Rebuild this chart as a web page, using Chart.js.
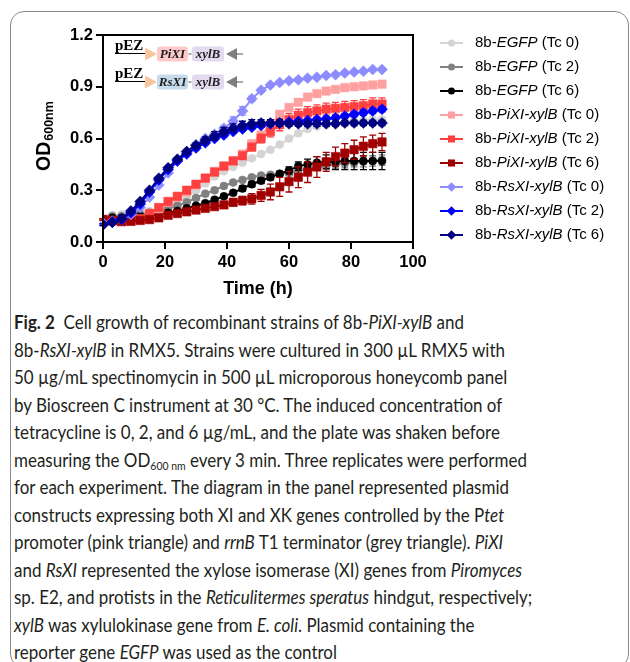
<!DOCTYPE html>
<html>
<head>
<meta charset="utf-8">
<script src="https://cdn.jsdelivr.net/npm/chart.js@4.4.1/dist/chart.umd.min.js"></script>
<style>
  html, body { margin: 0; padding: 0; background: #fff; width: 630px; height: 662px; overflow: hidden; }
  #frame { position: absolute; left: 10px; top: 11px; width: 619px; height: 657px; box-sizing: border-box;
           border: 1px solid #8a8a8a; border-radius: 14px; }
  #chartBox { position: absolute; left: 0; top: 0; width: 630px; height: 305px; }
  #caption { position: absolute; left: 14px; top: 308px; font-family: Lato, "Noto Sans", sans-serif;
             font-size: 19.5px; color: #231f20; transform: scaleX(0.87); transform-origin: 0 0; }
  #caption .ln { height: 27.5px; line-height: 27.5px; white-space: nowrap; }
  #caption sub { font-size: 12px; vertical-align: -3px; line-height: 0; }
</style>
</head>
<body>
<div id="frame"></div>
<div id="chartBox"><canvas id="c" width="630" height="305"></canvas></div>
<div id="caption">
  <div class="ln"><b>Fig. 2</b>&nbsp; Cell growth of recombinant strains of 8b-<i>PiXI-xylB</i> and</div>
  <div class="ln">8b-<i>RsXI-xylB</i> in RMX5. Strains were cultured in 300 µL RMX5 with</div>
  <div class="ln">50 µg/mL spectinomycin in 500 µL microporous honeycomb panel</div>
  <div class="ln">by Bioscreen C instrument at 30 °C. The induced concentration of</div>
  <div class="ln">tetracycline is 0, 2, and 6 µg/mL, and the plate was shaken before</div>
  <div class="ln">measuring the OD<sub>600 nm</sub> every 3 min. Three replicates were performed</div>
  <div class="ln">for each experiment. The diagram in the panel represented plasmid</div>
  <div class="ln">constructs expressing both XI and XK genes controlled by the P<i>tet</i></div>
  <div class="ln">promoter (pink triangle) and <i>rrnB</i> T1 terminator (grey triangle). <i>PiXI</i></div>
  <div class="ln">and <i>RsXI</i> represented the xylose isomerase (XI) genes from <i>Piromyces</i></div>
  <div class="ln">sp. E2, and protists in the <i>Reticulitermes speratus</i> hindgut, respectively;</div>
  <div class="ln"><i>xylB</i> was xylulokinase gene from <i>E. coli</i>. Plasmid containing the</div>
  <div class="ln">reporter gene <i>EGFP</i> was used as the control</div>
</div>
<script>
// sampling times (h)
const times = [0,3,6,9,12,15,18,21,24,27,30,33,36,39,42,45,48,51,54,57,60,63,66,69,72,75,78,81,84,87,90];

// OD600 means
const egfpTc0 = [0.13,0.155,0.16,0.165,0.17,0.18,0.19,0.205,0.23,0.26,0.30,0.34,0.38,0.41,0.435,0.46,0.485,0.51,0.535,0.565,0.60,0.63,0.655,0.67,0.68,0.69,0.695,0.70,0.705,0.71,0.71];
const egfpTc2 = [0.13,0.15,0.15,0.155,0.16,0.17,0.18,0.195,0.21,0.23,0.255,0.28,0.30,0.325,0.345,0.36,0.375,0.385,0.39,0.395,0.40,0.415,0.425,0.435,0.44,0.45,0.455,0.46,0.465,0.47,0.475];
const egfpTc6 = [0.13,0.14,0.14,0.145,0.15,0.155,0.16,0.17,0.18,0.195,0.21,0.225,0.245,0.265,0.285,0.31,0.335,0.355,0.375,0.395,0.415,0.44,0.45,0.46,0.465,0.465,0.47,0.47,0.47,0.47,0.47];
const pixiTc0 = [0.13,0.12,0.115,0.12,0.13,0.16,0.19,0.23,0.26,0.29,0.33,0.37,0.41,0.44,0.47,0.51,0.57,0.62,0.68,0.74,0.78,0.81,0.84,0.86,0.875,0.885,0.895,0.90,0.905,0.91,0.915];
const pixiTc2 = [0.13,0.125,0.12,0.125,0.135,0.165,0.20,0.235,0.265,0.30,0.335,0.37,0.405,0.44,0.47,0.50,0.55,0.60,0.64,0.68,0.71,0.735,0.75,0.76,0.77,0.775,0.78,0.785,0.79,0.80,0.80];
const pixiTc6 = [0.13,0.125,0.12,0.12,0.125,0.13,0.14,0.155,0.165,0.175,0.185,0.195,0.205,0.215,0.23,0.24,0.25,0.27,0.29,0.32,0.35,0.375,0.405,0.435,0.465,0.495,0.515,0.535,0.555,0.57,0.58];
const rsxiTc0 = [0.11,0.12,0.13,0.16,0.20,0.26,0.33,0.40,0.47,0.52,0.565,0.60,0.625,0.66,0.70,0.76,0.83,0.88,0.91,0.925,0.935,0.94,0.95,0.955,0.965,0.97,0.98,0.985,0.99,1.0,1.0];
const rsxiTc2 = [0.10,0.115,0.13,0.17,0.22,0.29,0.36,0.42,0.47,0.51,0.545,0.575,0.60,0.62,0.64,0.655,0.665,0.675,0.685,0.69,0.695,0.70,0.705,0.71,0.715,0.72,0.73,0.74,0.75,0.76,0.77];
const rsxiTc6 = [0.10,0.115,0.135,0.18,0.235,0.30,0.37,0.43,0.48,0.525,0.56,0.59,0.615,0.64,0.66,0.675,0.685,0.69,0.69,0.69,0.685,0.685,0.685,0.685,0.685,0.685,0.69,0.69,0.69,0.69,0.69];

// error bar half-heights (SD), estimated
const errEgfpTc0 = [0.005,0.005,0.005,0.005,0.005,0.005,0.005,0.005,0.005,0.005,0.005,0.005,0.005,0.005,0.005,0.005,0.005,0.005,0.005,0.005,0.01,0.01,0.01,0.01,0.01,0.01,0.01,0.01,0.01,0.01,0.01];
const errEgfpTc2 = [0.005,0.005,0.005,0.005,0.005,0.005,0.005,0.005,0.005,0.005,0.01,0.01,0.01,0.01,0.01,0.01,0.01,0.01,0.01,0.01,0.015,0.015,0.02,0.02,0.02,0.025,0.025,0.025,0.03,0.03,0.03];
const errEgfpTc6 = [0.005,0.005,0.005,0.005,0.005,0.005,0.005,0.005,0.005,0.005,0.01,0.01,0.01,0.01,0.01,0.015,0.015,0.015,0.015,0.015,0.02,0.025,0.03,0.035,0.04,0.045,0.05,0.05,0.05,0.05,0.05];
const errPixiTc0 = [0.005,0.005,0.005,0.005,0.005,0.005,0.005,0.005,0.005,0.005,0.005,0.005,0.005,0.005,0.01,0.01,0.015,0.02,0.025,0.02,0.015,0.01,0.01,0.01,0.01,0.01,0.01,0.01,0.01,0.01,0.01];
const errPixiTc2 = [0.005,0.005,0.005,0.005,0.005,0.005,0.005,0.005,0.005,0.005,0.01,0.01,0.01,0.01,0.015,0.015,0.02,0.025,0.03,0.035,0.035,0.035,0.035,0.035,0.035,0.035,0.035,0.035,0.035,0.035,0.035];
const errPixiTc6 = [0.005,0.005,0.005,0.005,0.005,0.005,0.005,0.005,0.01,0.01,0.01,0.01,0.015,0.02,0.02,0.025,0.03,0.035,0.045,0.055,0.06,0.06,0.06,0.06,0.055,0.055,0.055,0.055,0.055,0.05,0.05];
const errRsxiTc0 = [0.005,0.005,0.005,0.005,0.005,0.005,0.005,0.005,0.005,0.005,0.005,0.005,0.01,0.015,0.025,0.025,0.015,0.01,0.01,0.01,0.01,0.01,0.01,0.01,0.01,0.01,0.01,0.01,0.01,0.01,0.01];
const errRsxiTc2 = [0.005,0.005,0.005,0.005,0.005,0.005,0.005,0.005,0.005,0.005,0.01,0.01,0.01,0.01,0.01,0.01,0.01,0.01,0.01,0.01,0.01,0.01,0.01,0.01,0.01,0.01,0.01,0.015,0.015,0.015,0.015];
const errRsxiTc6 = [0.005,0.005,0.005,0.005,0.005,0.005,0.005,0.005,0.01,0.01,0.015,0.02,0.025,0.025,0.025,0.025,0.025,0.02,0.02,0.02,0.015,0.015,0.015,0.015,0.015,0.015,0.015,0.015,0.015,0.015,0.015];

const xTicks = [0, 20, 40, 60, 80, 100];
const yTicks = [0, 0.3, 0.6, 0.9, 1.2];

const series = [
  { gene: 'EGFP',      tc: 'Tc 0', y: egfpTc0, err: errEgfpTc0, color: '#d4d4d4', style: 'circle',  r: 4 },
  { gene: 'EGFP',      tc: 'Tc 2', y: egfpTc2, err: errEgfpTc2, color: '#808080', style: 'circle',  r: 4 },
  { gene: 'EGFP',      tc: 'Tc 6', y: egfpTc6, err: errEgfpTc6, color: '#000000', style: 'circle',  r: 4 },
  { gene: 'PiXI-xylB', tc: 'Tc 0', y: pixiTc0, err: errPixiTc0, color: '#ffa0a0', style: 'rect',    r: 6 },
  { gene: 'PiXI-xylB', tc: 'Tc 2', y: pixiTc2, err: errPixiTc2, color: '#ff4040', style: 'rect',    r: 6 },
  { gene: 'PiXI-xylB', tc: 'Tc 6', y: pixiTc6, err: errPixiTc6, color: '#a00000', style: 'rect',    r: 6 },
  { gene: 'RsXI-xylB', tc: 'Tc 0', y: rsxiTc0, err: errRsxiTc0, color: '#8c8cff', style: 'rectRot', r: 5.5 },
  { gene: 'RsXI-xylB', tc: 'Tc 2', y: rsxiTc2, err: errRsxiTc2, color: '#0000ff', style: 'rectRot', r: 5.5 },
  { gene: 'RsXI-xylB', tc: 'Tc 6', y: rsxiTc6, err: errRsxiTc6, color: '#000080', style: 'rectRot', r: 5.5 },
];

const AX_FONT = '"Liberation Sans", Arial, sans-serif';

function marker(ctx, style, x, y, r) {
  ctx.beginPath();
  if (style === 'circle') {
    ctx.arc(x, y, r, 0, Math.PI * 2);
  } else if (style === 'rect') {
    const s = r * Math.SQRT1_2;
    ctx.rect(x - s, y - s, 2 * s, 2 * s);
  } else {
    ctx.moveTo(x - r, y); ctx.lineTo(x, y - r); ctx.lineTo(x + r, y); ctx.lineTo(x, y + r);
    ctx.closePath();
  }
  ctx.fill();
}

// error bars go under each series' own markers, like the original software
const errorBars = {
  id: 'errorBars',
  beforeDatasetDraw(chart, args) {
    const s = series[args.index];
    const ctx = chart.ctx, yS = chart.scales.y;
    ctx.save();
    ctx.strokeStyle = s.color;
    ctx.lineWidth = 1.3;
    args.meta.data.forEach((pt, i) => {
      const e = s.err[i];
      const top = yS.getPixelForValue(s.y[i] + e), bot = yS.getPixelForValue(s.y[i] - e);
      ctx.beginPath();
      ctx.moveTo(pt.x, top); ctx.lineTo(pt.x, bot);
      ctx.moveTo(pt.x - 3.5, top); ctx.lineTo(pt.x + 3.5, top);
      ctx.moveTo(pt.x - 3.5, bot); ctx.lineTo(pt.x + 3.5, bot);
      ctx.stroke();
    });
    ctx.restore();
  }
};

const decor = {
  id: 'decor',
  afterDraw(chart) {
    const ctx = chart.ctx, a = chart.chartArea;
    ctx.save();
    // box frame
    ctx.strokeStyle = '#000'; ctx.lineWidth = 2;
    ctx.strokeRect(a.left, a.top, a.right - a.left, a.bottom - a.top);

    // axis titles
    ctx.fillStyle = '#000';
    ctx.font = 'bold 18px ' + AX_FONT;
    ctx.textAlign = 'center'; ctx.textBaseline = 'middle';
    ctx.fillText('Time (h)', (a.left + a.right) / 2, 289);

    ctx.save();
    ctx.translate(50, 171);
    ctx.rotate(-Math.PI / 2);
    ctx.textAlign = 'left'; ctx.textBaseline = 'alphabetic';
    ctx.font = 'bold 19.5px ' + AX_FONT;
    ctx.fillText('OD', 0, 0);
    const w = ctx.measureText('OD').width;
    ctx.font = 'bold 12.5px ' + AX_FONT;
    ctx.fillText('600nm', w + 1, 3);
    ctx.restore();

    // legend
    series.forEach((s, i) => {
      const y = 43 + i * 24;
      ctx.strokeStyle = s.color; ctx.fillStyle = s.color; ctx.lineWidth = 2;
      ctx.beginPath(); ctx.moveTo(440, y); ctx.lineTo(463, y); ctx.stroke();
      marker(ctx, s.style, 451.5, y, s.style === 'circle' ? 3.5 : (s.style === 'rect' ? 5 : 4.8));
      ctx.fillStyle = '#000'; ctx.textBaseline = 'middle'; ctx.textAlign = 'left';
      let x = 475;
      ctx.font = '15px ' + AX_FONT;
      ctx.fillText('8b-', x, y); x += ctx.measureText('8b-').width;
      ctx.font = 'italic 15px ' + AX_FONT;
      ctx.fillText(s.gene, x, y); x += ctx.measureText(s.gene).width;
      ctx.font = '15px ' + AX_FONT;
      ctx.fillText(' (' + s.tc + ')', x, y);
    });

    // plasmid diagram
    const rows = [{ y: 54, gene: 'PiXI', fill: '#ffc9c9' }, { y: 82, gene: 'RsXI', fill: '#c6dcee' }];
    rows.forEach(r => {
      ctx.fillStyle = '#000'; ctx.strokeStyle = '#000'; ctx.lineWidth = 1;
      ctx.font = 'bold 15px "Liberation Serif", "Times New Roman", serif';
      ctx.textAlign = 'left'; ctx.textBaseline = 'alphabetic';
      ctx.fillText('pEZ', 115, r.y - 4);
      ctx.beginPath(); ctx.moveTo(115, r.y - 0.5); ctx.lineTo(147, r.y - 0.5); ctx.stroke();
      // promoter triangle
      ctx.fillStyle = '#f7c59f';
      ctx.beginPath(); ctx.moveTo(145, r.y - 6.5); ctx.lineTo(157, r.y); ctx.lineTo(145, r.y + 6.5); ctx.closePath(); ctx.fill();
      // gene boxes
      ctx.fillStyle = r.fill;
      ctx.beginPath(); ctx.roundRect(157, r.y - 7.5, 31, 15, 3); ctx.fill();
      ctx.fillStyle = '#e4daf0';
      ctx.beginPath(); ctx.roundRect(192, r.y - 7.5, 32, 15, 3); ctx.fill();
      ctx.strokeStyle = '#555';
      ctx.beginPath(); ctx.moveTo(188.5, r.y); ctx.lineTo(191.5, r.y); ctx.stroke();
      ctx.fillStyle = '#222';
      ctx.font = 'bold italic 13px "Liberation Serif", "Times New Roman", serif';
      ctx.textAlign = 'center'; ctx.textBaseline = 'middle';
      ctx.fillText(r.gene, 172.5, r.y + 1);
      ctx.fillText('xylB', 208, r.y + 1);
      // terminator triangle
      ctx.fillStyle = '#7f7f7f';
      ctx.beginPath(); ctx.moveTo(237, r.y - 6); ctx.lineTo(226, r.y); ctx.lineTo(237, r.y + 6); ctx.closePath(); ctx.fill();
      ctx.strokeStyle = '#555';
      ctx.beginPath(); ctx.moveTo(236, r.y); ctx.lineTo(243, r.y); ctx.stroke();
    });
    ctx.restore();
  }
};

const datasets = series.map((s, i) => ({
  label: '8b-' + s.gene + ' (' + s.tc + ')',
  data: times.map((t, k) => ({ x: t, y: s.y[k] })),
  borderColor: s.color,
  backgroundColor: s.color,
  borderWidth: 2,
  pointStyle: s.style,
  pointRadius: s.r,
  pointBorderWidth: 0.5,
  pointBackgroundColor: s.color,
  pointBorderColor: s.color,
  tension: 0,
  order: series.length - i,
}));

new Chart(document.getElementById('c'), {
  type: 'line',
  data: { datasets },
  options: {
    responsive: false,
    animation: false,
    layout: { padding: { left: 0, top: 35, right: 217, bottom: 0 } },
    plugins: { legend: { display: false }, tooltip: { enabled: false } },
    scales: {
      x: {
        type: 'linear', min: 0, max: 100,
        afterBuildTicks: sc => { sc.ticks = xTicks.map(v => ({ value: v })); },
        afterFit: sc => { sc.height = 63; },
        grid: { drawOnChartArea: false, tickLength: 7, color: '#000', lineWidth: 2 },
        border: { color: '#000', width: 2 },
        ticks: { color: '#000', padding: 4, maxRotation: 0, font: { family: AX_FONT, size: 16.5, weight: 'bold' } },
      },
      y: {
        type: 'linear', min: 0, max: 1.2,
        afterBuildTicks: sc => { sc.ticks = yTicks.map(v => ({ value: v })); },
        afterFit: sc => { sc.width = 103; },
        grid: { drawOnChartArea: false, tickLength: 7, color: '#000', lineWidth: 2 },
        border: { color: '#000', width: 2 },
        ticks: { color: '#000', padding: 3, callback: v => v.toFixed(1), font: { family: AX_FONT, size: 16.5, weight: 'bold' } },
      },
    },
  },
  plugins: [errorBars, decor],
});
</script>
</body>
</html>
